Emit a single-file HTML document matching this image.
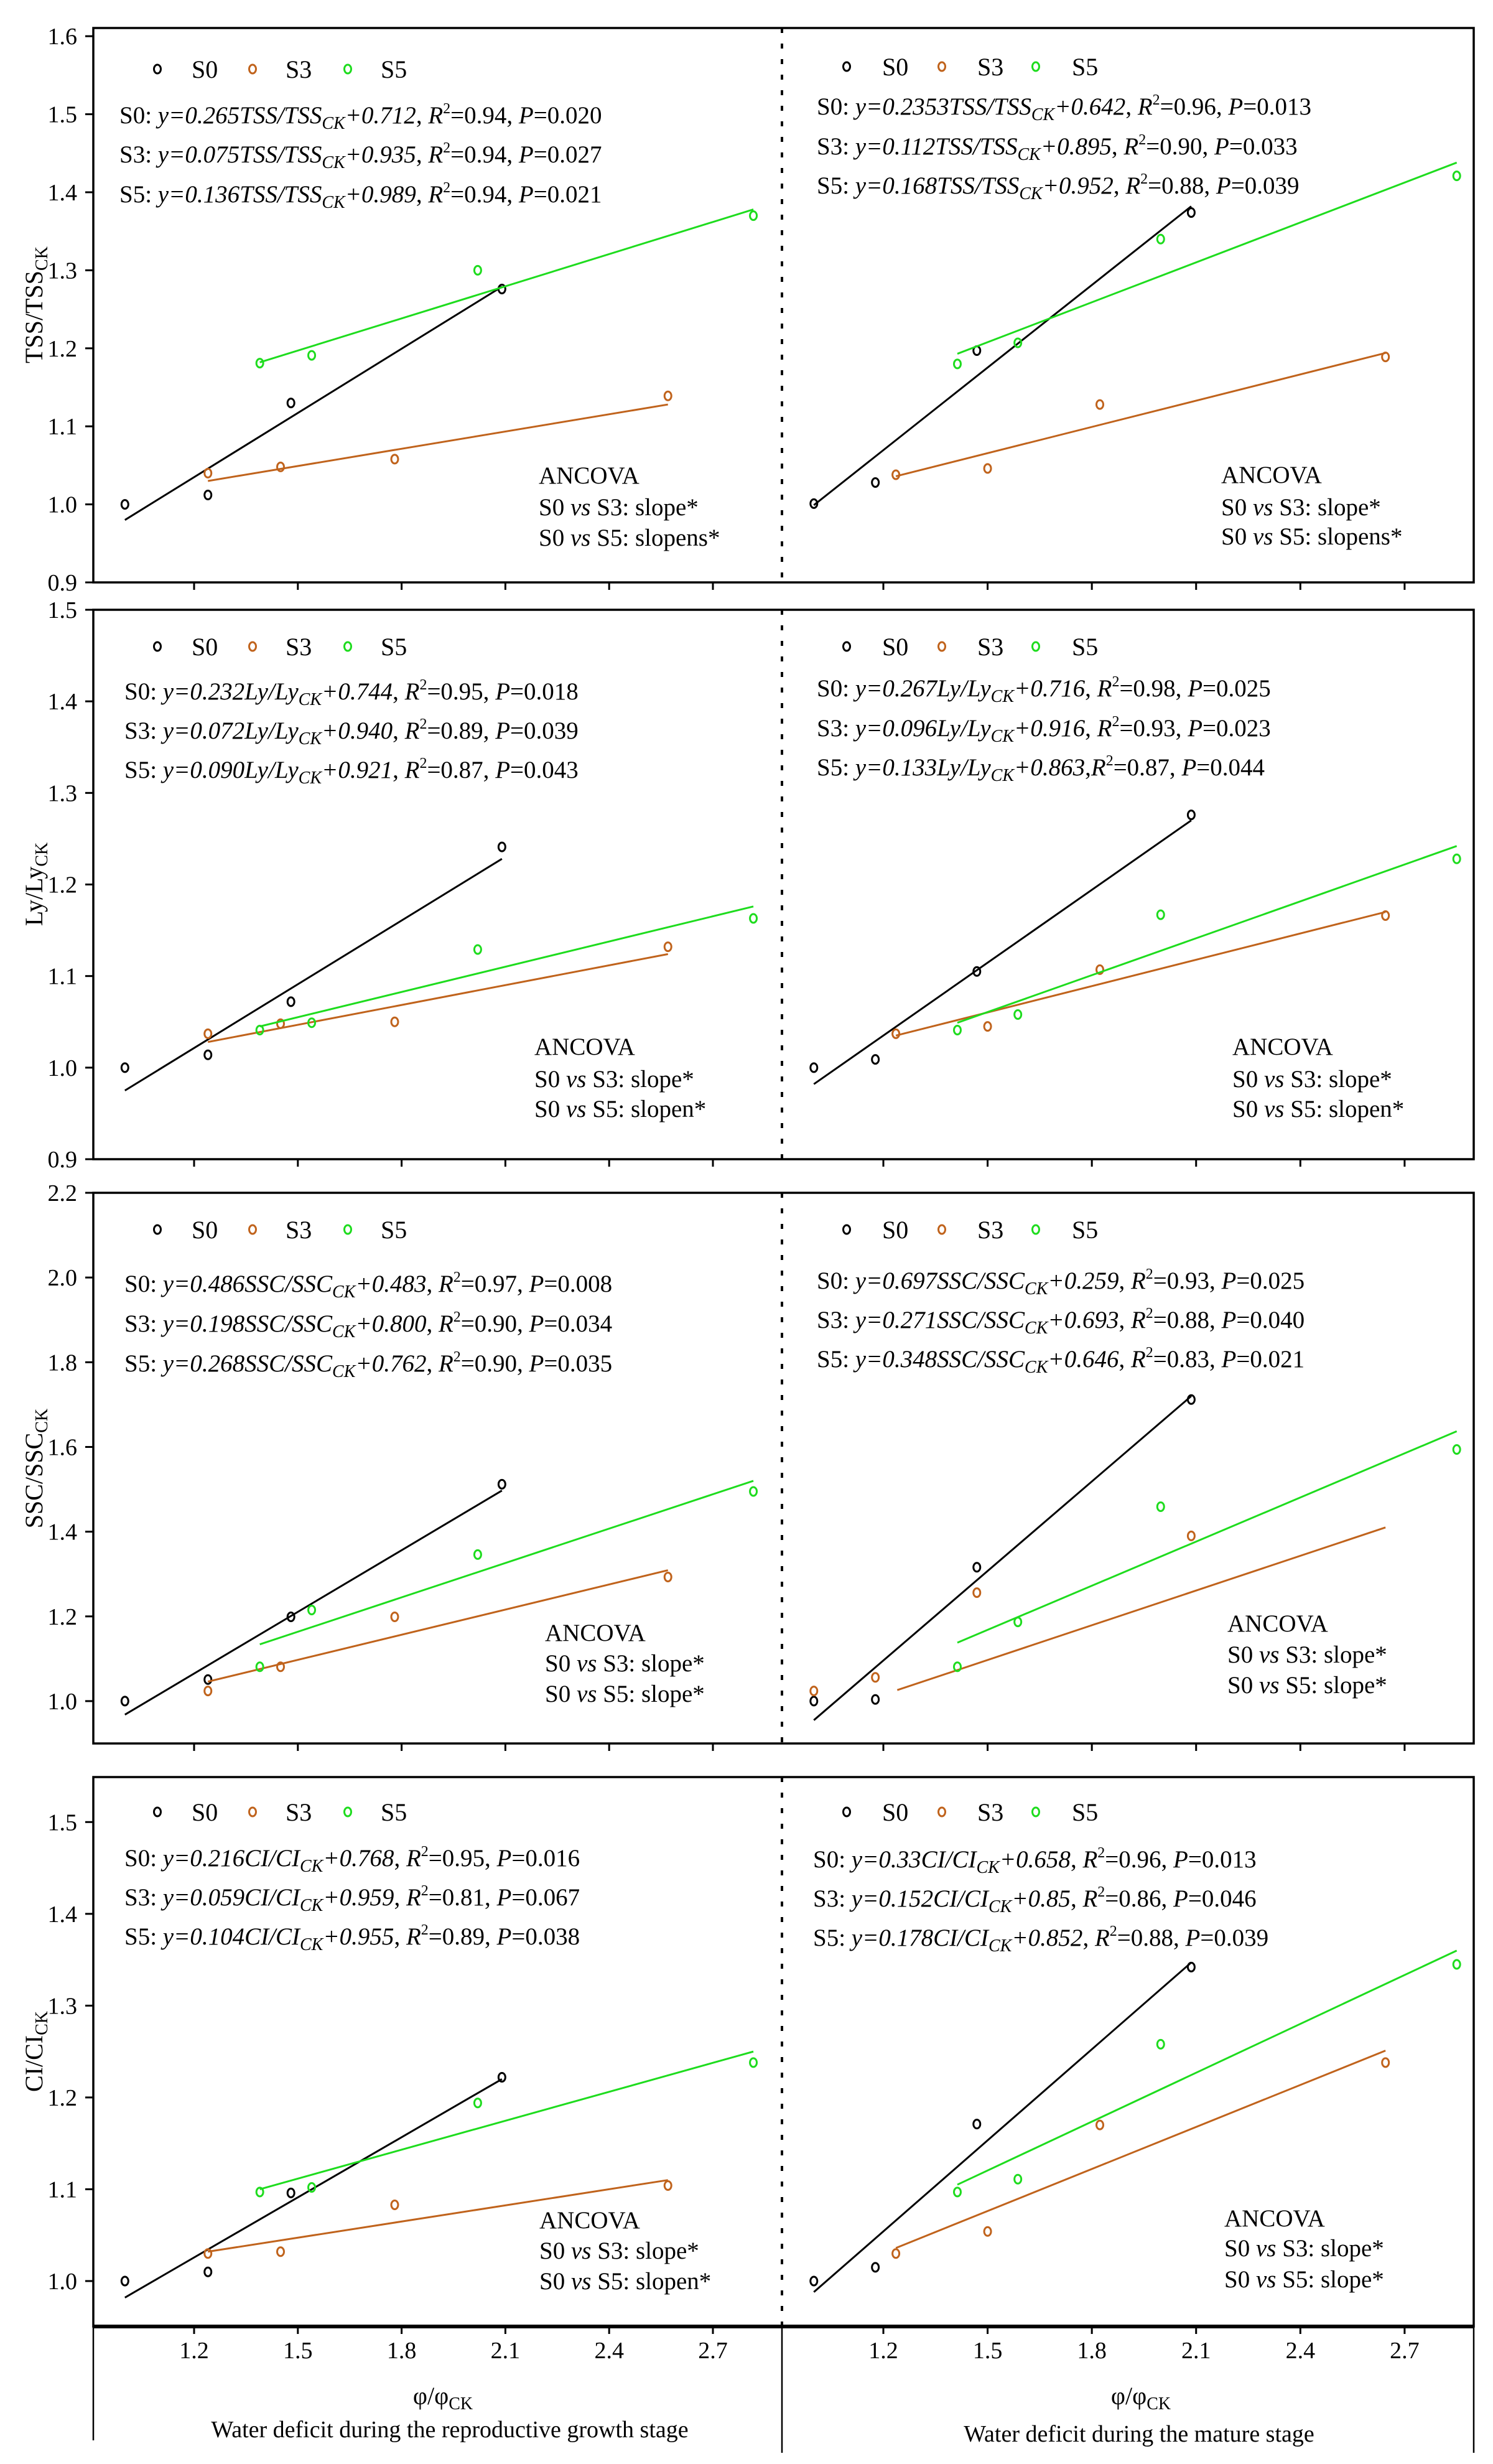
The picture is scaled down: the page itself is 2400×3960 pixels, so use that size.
<!DOCTYPE html>
<html><head><meta charset="utf-8"><style>
html,body{margin:0;padding:0;background:#fff;}
svg{display:block;font-family:"Liberation Serif","Times New Roman",serif;}
.eq{font-size:39px;fill:#000;}
.lg{font-size:40px;fill:#000;}
.an{font-size:39px;fill:#000;}
.tk{font-size:38px;fill:#000;}
</style></head><body>
<svg id="chart" xmlns="http://www.w3.org/2000/svg" width="2400" height="3960" viewBox="0 0 2400 3960">
<rect x="0" y="0" width="2400" height="3960" fill="#fff"/>
<g id="marks"></g>

<!-- Y-axis titles -->
<text class="lg" transform="translate(68,490) rotate(-90)" text-anchor="middle">TSS/TSS<tspan font-size="28" dy="8">CK</tspan></text>
<text class="lg" transform="translate(68,1421) rotate(-90)" text-anchor="middle">Ly/Ly<tspan font-size="28" dy="8">CK</tspan></text>
<text class="lg" transform="translate(68,2360) rotate(-90)" text-anchor="middle">SSC/SSC<tspan font-size="28" dy="8">CK</tspan></text>
<text class="lg" transform="translate(68,3297) rotate(-90)" text-anchor="middle">CI/CI<tspan font-size="28" dy="8">CK</tspan></text>

<!-- Legends -->
<g>
<ellipse cx="253" cy="111" rx="5.5" ry="7" fill="none" stroke="#000" stroke-width="3"/><text class="lg" x="308" y="125">S0</text>
<ellipse cx="406" cy="111" rx="5.5" ry="7" fill="none" stroke="#c0631c" stroke-width="3"/><text class="lg" x="459" y="125">S3</text>
<ellipse cx="559" cy="111" rx="5.5" ry="7" fill="none" stroke="#1edc1e" stroke-width="3"/><text class="lg" x="612" y="125">S5</text></g>
<g>
<ellipse cx="1361" cy="107" rx="5.5" ry="7" fill="none" stroke="#000" stroke-width="3"/><text class="lg" x="1418" y="121">S0</text>
<ellipse cx="1514" cy="107" rx="5.5" ry="7" fill="none" stroke="#c0631c" stroke-width="3"/><text class="lg" x="1571" y="121">S3</text>
<ellipse cx="1665" cy="107" rx="5.5" ry="7" fill="none" stroke="#1edc1e" stroke-width="3"/><text class="lg" x="1723" y="121">S5</text></g>
<g>
<ellipse cx="253" cy="1039" rx="5.5" ry="7" fill="none" stroke="#000" stroke-width="3"/><text class="lg" x="308" y="1053">S0</text>
<ellipse cx="406" cy="1039" rx="5.5" ry="7" fill="none" stroke="#c0631c" stroke-width="3"/><text class="lg" x="459" y="1053">S3</text>
<ellipse cx="559" cy="1039" rx="5.5" ry="7" fill="none" stroke="#1edc1e" stroke-width="3"/><text class="lg" x="612" y="1053">S5</text></g>
<g>
<ellipse cx="1361" cy="1039" rx="5.5" ry="7" fill="none" stroke="#000" stroke-width="3"/><text class="lg" x="1418" y="1053">S0</text>
<ellipse cx="1514" cy="1039" rx="5.5" ry="7" fill="none" stroke="#c0631c" stroke-width="3"/><text class="lg" x="1571" y="1053">S3</text>
<ellipse cx="1665" cy="1039" rx="5.5" ry="7" fill="none" stroke="#1edc1e" stroke-width="3"/><text class="lg" x="1723" y="1053">S5</text></g>
<g>
<ellipse cx="253" cy="1976" rx="5.5" ry="7" fill="none" stroke="#000" stroke-width="3"/><text class="lg" x="308" y="1990">S0</text>
<ellipse cx="406" cy="1976" rx="5.5" ry="7" fill="none" stroke="#c0631c" stroke-width="3"/><text class="lg" x="459" y="1990">S3</text>
<ellipse cx="559" cy="1976" rx="5.5" ry="7" fill="none" stroke="#1edc1e" stroke-width="3"/><text class="lg" x="612" y="1990">S5</text></g>
<g>
<ellipse cx="1361" cy="1976" rx="5.5" ry="7" fill="none" stroke="#000" stroke-width="3"/><text class="lg" x="1418" y="1990">S0</text>
<ellipse cx="1514" cy="1976" rx="5.5" ry="7" fill="none" stroke="#c0631c" stroke-width="3"/><text class="lg" x="1571" y="1990">S3</text>
<ellipse cx="1665" cy="1976" rx="5.5" ry="7" fill="none" stroke="#1edc1e" stroke-width="3"/><text class="lg" x="1723" y="1990">S5</text></g>
<g>
<ellipse cx="253" cy="2912" rx="5.5" ry="7" fill="none" stroke="#000" stroke-width="3"/><text class="lg" x="308" y="2926">S0</text>
<ellipse cx="406" cy="2912" rx="5.5" ry="7" fill="none" stroke="#c0631c" stroke-width="3"/><text class="lg" x="459" y="2926">S3</text>
<ellipse cx="559" cy="2912" rx="5.5" ry="7" fill="none" stroke="#1edc1e" stroke-width="3"/><text class="lg" x="612" y="2926">S5</text></g>
<g>
<ellipse cx="1361" cy="2912" rx="5.5" ry="7" fill="none" stroke="#000" stroke-width="3"/><text class="lg" x="1418" y="2926">S0</text>
<ellipse cx="1514" cy="2912" rx="5.5" ry="7" fill="none" stroke="#c0631c" stroke-width="3"/><text class="lg" x="1571" y="2926">S3</text>
<ellipse cx="1665" cy="2912" rx="5.5" ry="7" fill="none" stroke="#1edc1e" stroke-width="3"/><text class="lg" x="1723" y="2926">S5</text></g>

<!-- Equations panel 1 -->
<text class="eq" x="192" y="198">S0: <tspan font-style="italic">y=0.265TSS/TSS</tspan><tspan font-style="italic" font-size="28" dy="9">CK</tspan><tspan font-style="italic" dy="-9">+0.712</tspan>, <tspan font-style="italic">R</tspan><tspan font-size="24" dy="-16">2</tspan><tspan dy="16">=0.94, </tspan><tspan font-style="italic">P</tspan>=0.020</text>
<text class="eq" x="192" y="261">S3: <tspan font-style="italic">y=0.075TSS/TSS</tspan><tspan font-style="italic" font-size="28" dy="9">CK</tspan><tspan font-style="italic" dy="-9">+0.935</tspan>, <tspan font-style="italic">R</tspan><tspan font-size="24" dy="-16">2</tspan><tspan dy="16">=0.94, </tspan><tspan font-style="italic">P</tspan>=0.027</text>
<text class="eq" x="192" y="325">S5: <tspan font-style="italic">y=0.136TSS/TSS</tspan><tspan font-style="italic" font-size="28" dy="9">CK</tspan><tspan font-style="italic" dy="-9">+0.989</tspan>, <tspan font-style="italic">R</tspan><tspan font-size="24" dy="-16">2</tspan><tspan dy="16">=0.94, </tspan><tspan font-style="italic">P</tspan>=0.021</text>
<text class="eq" x="1313" y="184">S0: <tspan font-style="italic">y=0.2353TSS/TSS</tspan><tspan font-style="italic" font-size="28" dy="9">CK</tspan><tspan font-style="italic" dy="-9">+0.642</tspan>, <tspan font-style="italic">R</tspan><tspan font-size="24" dy="-16">2</tspan><tspan dy="16">=0.96, </tspan><tspan font-style="italic">P</tspan>=0.013</text>
<text class="eq" x="1313" y="248">S3: <tspan font-style="italic">y=0.112TSS/TSS</tspan><tspan font-style="italic" font-size="28" dy="9">CK</tspan><tspan font-style="italic" dy="-9">+0.895</tspan>,  <tspan font-style="italic">R</tspan><tspan font-size="24" dy="-16">2</tspan><tspan dy="16">=0.90, </tspan><tspan font-style="italic">P</tspan>=0.033</text>
<text class="eq" x="1313" y="311">S5: <tspan font-style="italic">y=0.168TSS/TSS</tspan><tspan font-style="italic" font-size="28" dy="9">CK</tspan><tspan font-style="italic" dy="-9">+0.952</tspan>, <tspan font-style="italic">R</tspan><tspan font-size="24" dy="-16">2</tspan><tspan dy="16">=0.88, </tspan><tspan font-style="italic">P</tspan>=0.039</text>

<!-- Equations panel 2 -->
<text class="eq" x="200" y="1124">S0: <tspan font-style="italic">y=0.232Ly/Ly</tspan><tspan font-style="italic" font-size="28" dy="9">CK</tspan><tspan font-style="italic" dy="-9">+0.744</tspan>, <tspan font-style="italic">R</tspan><tspan font-size="24" dy="-16">2</tspan><tspan dy="16">=0.95, </tspan><tspan font-style="italic">P</tspan>=0.018</text>
<text class="eq" x="200" y="1187">S3: <tspan font-style="italic">y=0.072Ly/Ly</tspan><tspan font-style="italic" font-size="28" dy="9">CK</tspan><tspan font-style="italic" dy="-9">+0.940</tspan>, <tspan font-style="italic">R</tspan><tspan font-size="24" dy="-16">2</tspan><tspan dy="16">=0.89, </tspan><tspan font-style="italic">P</tspan>=0.039</text>
<text class="eq" x="200" y="1250">S5: <tspan font-style="italic">y=0.090Ly/Ly</tspan><tspan font-style="italic" font-size="28" dy="9">CK</tspan><tspan font-style="italic" dy="-9">+0.921</tspan>, <tspan font-style="italic">R</tspan><tspan font-size="24" dy="-16">2</tspan><tspan dy="16">=0.87, </tspan><tspan font-style="italic">P</tspan>=0.043</text>
<text class="eq" x="1313" y="1119">S0: <tspan font-style="italic">y=0.267Ly/Ly</tspan><tspan font-style="italic" font-size="28" dy="9">CK</tspan><tspan font-style="italic" dy="-9">+0.716</tspan>, <tspan font-style="italic">R</tspan><tspan font-size="24" dy="-16">2</tspan><tspan dy="16">=0.98, </tspan><tspan font-style="italic">P</tspan>=0.025</text>
<text class="eq" x="1313" y="1183">S3: <tspan font-style="italic">y=0.096Ly/Ly</tspan><tspan font-style="italic" font-size="28" dy="9">CK</tspan><tspan font-style="italic" dy="-9">+0.916</tspan>, <tspan font-style="italic">R</tspan><tspan font-size="24" dy="-16">2</tspan><tspan dy="16">=0.93, </tspan><tspan font-style="italic">P</tspan>=0.023</text>
<text class="eq" x="1313" y="1246">S5: <tspan font-style="italic">y=0.133Ly/Ly</tspan><tspan font-style="italic" font-size="28" dy="9">CK</tspan><tspan font-style="italic" dy="-9">+0.863</tspan>,<tspan font-style="italic">R</tspan><tspan font-size="24" dy="-16">2</tspan><tspan dy="16">=0.87, </tspan><tspan font-style="italic">P</tspan>=0.044</text>

<!-- Equations panel 3 -->
<text class="eq" x="200" y="2076">S0: <tspan font-style="italic">y=0.486SSC/SSC</tspan><tspan font-style="italic" font-size="28" dy="9">CK</tspan><tspan font-style="italic" dy="-9">+0.483</tspan>, <tspan font-style="italic">R</tspan><tspan font-size="24" dy="-16">2</tspan><tspan dy="16">=0.97, </tspan><tspan font-style="italic">P</tspan>=0.008</text>
<text class="eq" x="200" y="2140">S3: <tspan font-style="italic">y=0.198SSC/SSC</tspan><tspan font-style="italic" font-size="28" dy="9">CK</tspan><tspan font-style="italic" dy="-9">+0.800</tspan>, <tspan font-style="italic">R</tspan><tspan font-size="24" dy="-16">2</tspan><tspan dy="16">=0.90, </tspan><tspan font-style="italic">P</tspan>=0.034</text>
<text class="eq" x="200" y="2204">S5: <tspan font-style="italic">y=0.268SSC/SSC</tspan><tspan font-style="italic" font-size="28" dy="9">CK</tspan><tspan font-style="italic" dy="-9">+0.762</tspan>, <tspan font-style="italic">R</tspan><tspan font-size="24" dy="-16">2</tspan><tspan dy="16">=0.90, </tspan><tspan font-style="italic">P</tspan>=0.035</text>
<text class="eq" x="1313" y="2071">S0: <tspan font-style="italic">y=0.697SSC/SSC</tspan><tspan font-style="italic" font-size="28" dy="9">CK</tspan><tspan font-style="italic" dy="-9">+0.259</tspan>, <tspan font-style="italic">R</tspan><tspan font-size="24" dy="-16">2</tspan><tspan dy="16">=0.93, </tspan><tspan font-style="italic">P</tspan>=0.025</text>
<text class="eq" x="1313" y="2134">S3: <tspan font-style="italic">y=0.271SSC/SSC</tspan><tspan font-style="italic" font-size="28" dy="9">CK</tspan><tspan font-style="italic" dy="-9">+0.693</tspan>, <tspan font-style="italic">R</tspan><tspan font-size="24" dy="-16">2</tspan><tspan dy="16">=0.88, </tspan><tspan font-style="italic">P</tspan>=0.040</text>
<text class="eq" x="1313" y="2197">S5: <tspan font-style="italic">y=0.348SSC/SSC</tspan><tspan font-style="italic" font-size="28" dy="9">CK</tspan><tspan font-style="italic" dy="-9">+0.646</tspan>, <tspan font-style="italic">R</tspan><tspan font-size="24" dy="-16">2</tspan><tspan dy="16">=0.83, </tspan><tspan font-style="italic">P</tspan>=0.021</text>

<!-- Equations panel 4 -->
<text class="eq" x="200" y="2999">S0: <tspan font-style="italic">y=0.216CI/CI</tspan><tspan font-style="italic" font-size="28" dy="9">CK</tspan><tspan font-style="italic" dy="-9">+0.768</tspan>, <tspan font-style="italic">R</tspan><tspan font-size="24" dy="-16">2</tspan><tspan dy="16">=0.95, </tspan><tspan font-style="italic">P</tspan>=0.016</text>
<text class="eq" x="200" y="3062">S3: <tspan font-style="italic">y=0.059CI/CI</tspan><tspan font-style="italic" font-size="28" dy="9">CK</tspan><tspan font-style="italic" dy="-9">+0.959</tspan>, <tspan font-style="italic">R</tspan><tspan font-size="24" dy="-16">2</tspan><tspan dy="16">=0.81, </tspan><tspan font-style="italic">P</tspan>=0.067</text>
<text class="eq" x="200" y="3125">S5: <tspan font-style="italic">y=0.104CI/CI</tspan><tspan font-style="italic" font-size="28" dy="9">CK</tspan><tspan font-style="italic" dy="-9">+0.955</tspan>, <tspan font-style="italic">R</tspan><tspan font-size="24" dy="-16">2</tspan><tspan dy="16">=0.89, </tspan><tspan font-style="italic">P</tspan>=0.038</text>
<text class="eq" x="1307" y="3001">S0: <tspan font-style="italic">y=0.33CI/CI</tspan><tspan font-style="italic" font-size="28" dy="9">CK</tspan><tspan font-style="italic" dy="-9">+0.658</tspan>, <tspan font-style="italic">R</tspan><tspan font-size="24" dy="-16">2</tspan><tspan dy="16">=0.96, </tspan><tspan font-style="italic">P</tspan>=0.013</text>
<text class="eq" x="1307" y="3064">S3: <tspan font-style="italic">y=0.152CI/CI</tspan><tspan font-style="italic" font-size="28" dy="9">CK</tspan><tspan font-style="italic" dy="-9">+0.85</tspan>, <tspan font-style="italic">R</tspan><tspan font-size="24" dy="-16">2</tspan><tspan dy="16">=0.86, </tspan><tspan font-style="italic">P</tspan>=0.046</text>
<text class="eq" x="1307" y="3127">S5: <tspan font-style="italic">y=0.178CI/CI</tspan><tspan font-style="italic" font-size="28" dy="9">CK</tspan><tspan font-style="italic" dy="-9">+0.852</tspan>, <tspan font-style="italic">R</tspan><tspan font-size="24" dy="-16">2</tspan><tspan dy="16">=0.88, </tspan><tspan font-style="italic">P</tspan>=0.039</text>

<!-- ANCOVA notes -->
<g class="an"><text x="866" y="777">ANCOVA</text><text x="866" y="828">S0 <tspan font-style="italic">vs</tspan> S3: slope*</text><text x="866" y="877">S0 <tspan font-style="italic">vs</tspan> S5: slopens*</text></g>
<g class="an"><text x="1963" y="776">ANCOVA</text><text x="1963" y="828">S0 <tspan font-style="italic">vs</tspan> S3: slope*</text><text x="1963" y="875">S0 <tspan font-style="italic">vs</tspan> S5: slopens*</text></g>
<g class="an"><text x="859" y="1695">ANCOVA</text><text x="859" y="1747">S0 <tspan font-style="italic">vs</tspan> S3: slope*</text><text x="859" y="1795">S0 <tspan font-style="italic">vs</tspan> S5: slopen*</text></g>
<g class="an"><text x="1981" y="1695">ANCOVA</text><text x="1981" y="1747">S0 <tspan font-style="italic">vs</tspan> S3: slope*</text><text x="1981" y="1795">S0 <tspan font-style="italic">vs</tspan> S5: slopen*</text></g>
<g class="an"><text x="876" y="2637">ANCOVA</text><text x="876" y="2686">S0 <tspan font-style="italic">vs</tspan> S3: slope*</text><text x="876" y="2735">S0 <tspan font-style="italic">vs</tspan> S5: slope*</text></g>
<g class="an"><text x="1973" y="2622">ANCOVA</text><text x="1973" y="2672">S0 <tspan font-style="italic">vs</tspan> S3: slope*</text><text x="1973" y="2721">S0 <tspan font-style="italic">vs</tspan> S5: slope*</text></g>
<g class="an"><text x="867" y="3581">ANCOVA</text><text x="867" y="3630">S0 <tspan font-style="italic">vs</tspan> S3: slope*</text><text x="867" y="3679">S0 <tspan font-style="italic">vs</tspan> S5: slopen*</text></g>
<g class="an"><text x="1968" y="3578">ANCOVA</text><text x="1968" y="3626">S0 <tspan font-style="italic">vs</tspan> S3: slope*</text><text x="1968" y="3676">S0 <tspan font-style="italic">vs</tspan> S5: slope*</text></g>

<!-- Bottom axis titles -->
<text class="lg" x="712" y="3864" text-anchor="middle">φ/φ<tspan font-size="28" dy="8">CK</tspan></text>
<text class="lg" x="1834" y="3864" text-anchor="middle">φ/φ<tspan font-size="28" dy="8">CK</tspan></text>
<text class="tk" x="723" y="3917" text-anchor="middle">Water deficit during the reproductive growth stage</text>
<text class="tk" x="1831" y="3924" text-anchor="middle">Water deficit during the mature stage</text>
</svg>
<script>
// ---------- data ----------
const xTickVals = [1.2, 1.5, 1.8, 2.1, 2.4, 2.7];
const xTickLabels = ['1.2', '1.5', '1.8', '2.1', '2.4', '2.7'];
const yTicksP1 = [0.9, 1.0, 1.1, 1.2, 1.3, 1.4, 1.5, 1.6];
const yTicksP2 = [0.9, 1.0, 1.1, 1.2, 1.3, 1.4, 1.5];
const yTicksP3 = [1.0, 1.2, 1.4, 1.6, 1.8, 2.0, 2.2];
const yTicksP4 = [1.0, 1.1, 1.2, 1.3, 1.4, 1.5];

// x positions (φ/φCK) per treatment
const xL_S0 = [1.0, 1.24, 1.48, 2.09];
const xL_S3 = [1.24, 1.45, 1.78, 2.57];
const xL_S5 = [1.39, 1.54, 2.02, 2.817];
const xR_S0 = [1.0, 1.177, 1.469, 2.086];
const xR_S3 = [1.236, 1.50, 1.823, 2.645];
const xR_S5 = [1.413, 1.587, 1.998, 2.85];

// Panel 1: TSS/TSSck
const p1L_S0 = [1.0, 1.012, 1.13, 1.276];
const p1L_S3 = [1.04, 1.048, 1.058, 1.139];
const p1L_S5 = [1.181, 1.191, 1.30, 1.37];
const p1R_S0 = [1.001, 1.028, 1.197, 1.374];
const p1R_S3 = [1.038, 1.046, 1.128, 1.189];
const p1R_S5 = [1.18, 1.207, 1.34, 1.421];
const fit1L_S0 = [1.0, 0.98, 2.09, 1.279];
const fit1L_S3 = [1.24, 1.03, 2.57, 1.128];
const fit1L_S5 = [1.39, 1.182, 2.817, 1.378];
const fit1R_S0 = [1.0, 0.999, 2.086, 1.382];
const fit1R_S3 = [1.236, 1.036, 2.645, 1.194];
const fit1R_S5 = [1.413, 1.193, 2.85, 1.438];

// Panel 2: Ly/Lyck
const p2L_S0 = [1.0, 1.014, 1.072, 1.241];
const p2L_S3 = [1.037, 1.048, 1.05, 1.132];
const p2L_S5 = [1.041, 1.049, 1.129, 1.163];
const p2R_S0 = [1.0, 1.009, 1.105, 1.276];
const p2R_S3 = [1.037, 1.045, 1.107, 1.166];
const p2R_S5 = [1.041, 1.058, 1.167, 1.228];
const fit2L_S0 = [1.0, 0.975, 2.09, 1.228];
const fit2L_S3 = [1.24, 1.028, 2.57, 1.124];
const fit2L_S5 = [1.39, 1.045, 2.817, 1.176];
const fit2R_S0 = [1.0, 0.982, 2.086, 1.27];
const fit2R_S3 = [1.236, 1.035, 2.645, 1.17];
const fit2R_S5 = [1.413, 1.049, 2.85, 1.242];

// Panel 3: SSC/SSCck
const p3L_S0 = [1.0, 1.051, 1.199, 1.512];
const p3L_S3 = [1.024, 1.081, 1.199, 1.293];
const p3L_S5 = [1.081, 1.215, 1.346, 1.495];
const p3R_S0 = [1.0, 1.004, 1.316, 1.712];
const p3R_S3 = [1.024, 1.056, 1.256, 1.39];
const p3R_S5 = [1.081, 1.187, 1.459, 1.594];
const fit3L_S0 = [1.0, 0.968, 2.09, 1.497];
const fit3L_S3 = [1.24, 1.046, 2.57, 1.309];
const fit3L_S5 = [1.39, 1.134, 2.817, 1.52];
const fit3R_S0 = [1.0, 0.955, 2.086, 1.72];
const fit3R_S3 = [1.24, 1.026, 2.645, 1.41];
const fit3R_S5 = [1.413, 1.138, 2.85, 1.637];

// Panel 4: CI/CIck
const p4L_S0 = [1.0, 1.01, 1.096, 1.222];
const p4L_S3 = [1.03, 1.032, 1.083, 1.104];
const p4L_S5 = [1.097, 1.102, 1.194, 1.238];
const p4R_S0 = [1.0, 1.015, 1.171, 1.342];
const p4R_S3 = [1.03, 1.054, 1.17, 1.238];
const p4R_S5 = [1.097, 1.111, 1.258, 1.345];
const fit4L_S0 = [1.0, 0.982, 2.09, 1.22];
const fit4L_S3 = [1.24, 1.032, 2.57, 1.11];
const fit4L_S5 = [1.39, 1.1, 2.817, 1.25];
const fit4R_S0 = [1.0, 0.988, 2.086, 1.347];
const fit4R_S3 = [1.236, 1.036, 2.645, 1.251];
const fit4R_S5 = [1.413, 1.105, 2.85, 1.36];

// ---------- drawing ----------
const NS = 'http://www.w3.org/2000/svg';
const root = document.getElementById('marks');
function mk(tag, attrs, parent) {
  const e = document.createElementNS(NS, tag);
  for (const k in attrs) e.setAttribute(k, attrs[k]);
  (parent || root).appendChild(e);
  return e;
}
const FL = 150, DIV = 1257, FR = 2369;
function sxL(v) { return 312 + (v - 1.2) * 556; }
function sxR(v) { return 1420 + (v - 1.2) * 558.6; }
const COL = { S0: '#000000', S3: '#c0631c', S5: '#1edc1e' };

const panels = [
  { id: 'p1', top: 45, bottom: 936, vb: 0.9, vt: 1.6105, ticks: yTicksP1,
    L: [['S0', xL_S0, p1L_S0, fit1L_S0], ['S3', xL_S3, p1L_S3, fit1L_S3], ['S5', xL_S5, p1L_S5, fit1L_S5]],
    R: [['S0', xR_S0, p1R_S0, fit1R_S0], ['S3', xR_S3, p1R_S3, fit1R_S3], ['S5', xR_S5, p1R_S5, fit1R_S5]] },
  { id: 'p2', top: 980, bottom: 1863, vb: 0.9, vt: 1.5, ticks: yTicksP2,
    L: [['S0', xL_S0, p2L_S0, fit2L_S0], ['S3', xL_S3, p2L_S3, fit2L_S3], ['S5', xL_S5, p2L_S5, fit2L_S5]],
    R: [['S0', xR_S0, p2R_S0, fit2R_S0], ['S3', xR_S3, p2R_S3, fit2R_S3], ['S5', xR_S5, p2R_S5, fit2R_S5]] },
  { id: 'p3', top: 1917, bottom: 2802, vb: 0.9, vt: 2.2, ticks: yTicksP3,
    L: [['S0', xL_S0, p3L_S0, fit3L_S0], ['S3', xL_S3, p3L_S3, fit3L_S3], ['S5', xL_S5, p3L_S5, fit3L_S5]],
    R: [['S0', xR_S0, p3R_S0, fit3R_S0], ['S3', xR_S0, p3R_S3, fit3R_S3], ['S5', xR_S5, p3R_S5, fit3R_S5]] },
  { id: 'p4', top: 2856, bottom: 3739, vb: 0.9505, vt: 1.549, ticks: yTicksP4,
    L: [['S0', xL_S0, p4L_S0, fit4L_S0], ['S3', xL_S3, p4L_S3, fit4L_S3], ['S5', xL_S5, p4L_S5, fit4L_S5]],
    R: [['S0', xR_S0, p4R_S0, fit4R_S0], ['S3', xR_S3, p4R_S3, fit4R_S3], ['S5', xR_S5, p4R_S5, fit4R_S5]] }
];

panels.forEach(function (P) {
  const sy = function (v) { return P.bottom - (v - P.vb) / (P.vt - P.vb) * (P.bottom - P.top); };
  const frame = mk('rect', { x: FL, y: P.top, width: FR - FL, height: P.bottom - P.top, fill: 'none', stroke: '#000', 'stroke-width': 3.5 });
  
  
  const dv = mk('line', { x1: DIV, y1: P.top, x2: DIV, y2: P.bottom, stroke: '#000', 'stroke-width': 4, 'stroke-dasharray': '8 17' });
  
  
  // y ticks
  P.ticks.forEach(function (t) {
    const y = sy(t);
    const tl = mk('line', { x1: FL - 13, y1: y, x2: FL, y2: y, stroke: '#000', 'stroke-width': 3 });
    
    
    const tx = mk('text', { x: 124, y: y + 13, 'text-anchor': 'end', 'class': 'tk' });
    tx.textContent = t.toFixed(1);
    
    
  });
  // x ticks at panel bottom
  xTickVals.forEach(function (v) {
    [sxL(v), sxR(v)].forEach(function (x) {
      const t = mk('line', { x1: x, y1: P.bottom, x2: x, y2: P.bottom + 12, stroke: '#000', 'stroke-width': 3 });
      
      
    });
  });
  [['left', P.L, sxL], ['right', P.R, sxR]].forEach(function (side) {
    const sx = side[2];
    side[1].forEach(function (s) {
      const name = s[0], xs = s[1], ys = s[2], f = s[3];
      const ln = mk('line', { x1: sx(f[0]), y1: sy(f[1]), x2: sx(f[2]), y2: sy(f[3]), stroke: COL[name], 'stroke-width': 3 });
      
      
      ys.forEach(function (yv, i) {
        const pt = mk('ellipse', { cx: sx(xs[i]), cy: sy(yv), rx: 5.5, ry: 7, fill: 'none', stroke: COL[name], 'stroke-width': 3 });
        
        
      });
    });
  });
});

// bottom axis region
const bottomY = 3739;
const thick = mk('line', { x1: FL, y1: bottomY, x2: FR, y2: bottomY, stroke: '#000', 'stroke-width': 6 });


[[FL, 3922], [DIV, 3942], [FR, 3942]].forEach(function (v) {
  const l = mk('line', { x1: v[0], y1: bottomY, x2: v[0], y2: v[1], stroke: '#000', 'stroke-width': 2.5 });
  
  
});
xTickVals.forEach(function (v, i) {
  [sxL(v), sxR(v)].forEach(function (x) {
    const t = mk('text', { x: x, y: 3790, 'text-anchor': 'middle', 'class': 'tk' });
    t.textContent = xTickLabels[i];
    
    
  });
});
</script>
</body></html>
